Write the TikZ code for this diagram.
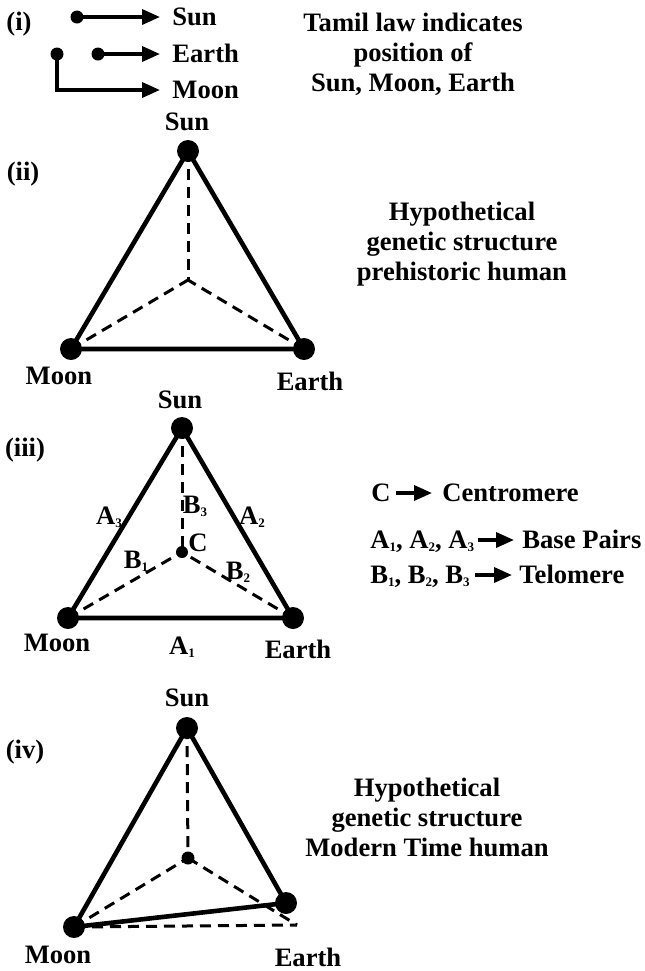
\documentclass[tikz,border=0pt]{standalone}
\usepackage{fontspec}
\setmainfont{Liberation Serif}
\usetikzlibrary{arrows.meta}
\newcommand{\sbs}[1]{\raisebox{-1.2pt}{\fontsize{6.5}{6.5}\selectfont #1}}
\begin{document}
\begin{tikzpicture}[x=0.5pt,y=-0.5pt,
  txt/.style={font=\fontsize{13.3}{15}\selectfont\bfseries, inner sep=0pt, text height=8.8pt, text depth=0pt},
  block/.style={font=\fontsize{13.3}{15}\selectfont\bfseries, inner sep=0pt, align=center},
  bigdot/.style={circle, fill=black, inner sep=0pt, minimum size=11pt},
  smalldot/.style={circle, fill=black, inner sep=0pt, minimum size=6.5pt},
  solidedge/.style={line width=2.3pt, line join=round},
  dashedge/.style={line width=1.5pt, dash pattern=on 5.5pt off 3.5pt},
  arr/.style={line width=1.8pt, -{Triangle[length=9pt,width=7.5pt]}},
]
\useasboundingbox (0,0) rectangle (644,971);

% ---------- (i)
\node[txt] (lab1) at (19,22) {(i)};
\node[smalldot] (d1) at (77,17) {};
\node[smalldot] (d2) at (57,54) {};
\node[smalldot] (d3) at (98,54) {};
\node[txt,anchor=west] (sun1) at (172,17) {Sun};
\node[txt,anchor=west] (earth1) at (172,54) {Earth};
\node[txt,anchor=west] (moon1) at (172,90) {Moon};
\draw[arr,shorten >=6pt] (d1.center) -- (sun1.west);
\draw[arr,shorten >=6pt] (d3.center) -- (earth1.west);
\draw[arr,shorten >=6pt] (d2.center) |- (moon1.west);
\node[block] (t1) at (413,54) {Tamil law indicates\\position of\\Sun, Moon, Earth};

% ---------- (ii)
\node[txt] (lab2) at (23,172) {(ii)};
\coordinate (c2) at (188,280);
\node[bigdot] (s2) at (188,151) {};
\node[bigdot] (m2) at (71,349) {};
\node[bigdot] (e2) at (304,349) {};
\draw[dashedge] (s2.center) -- (c2);
\draw[dashedge] (m2.center) -- (c2);
\draw[dashedge] (e2.center) -- (c2);
\draw[solidedge] (s2.center) -- (m2.center) -- (e2.center) -- cycle;
\node[txt] (sunl2) at (187,122) {Sun};
\node[txt] (moonl2) at (59,376) {Moon};
\node[txt] (earthl2) at (310,382) {Earth};
\node[block] (t2) at (462,244) {Hypothetical\\genetic structure\\prehistoric human};

% ---------- (iii)
\node[txt] (lab3) at (25,448) {(iii)};
\node[bigdot] (s3) at (182,428) {};
\node[bigdot] (m3) at (68,618) {};
\node[bigdot] (e3) at (293,618) {};
\node[smalldot,minimum size=6pt] (c3) at (182,552) {};
\draw[dashedge] (s3.center) -- (c3.center);
\draw[dashedge] (m3.center) -- (c3.center);
\draw[dashedge] (e3.center) -- (c3.center);
\draw[solidedge] (s3.center) -- (m3.center) -- (e3.center) -- cycle;
\node[txt] (sunl3) at (180,400) {Sun};
\node[txt] (moonl3) at (57,643) {Moon};
\node[txt] (earthl3) at (298,650) {Earth};
\node[txt] (a1) at (182,646) {A\sbs{1}};
\node[txt] (a2) at (252,516) {A\sbs{2}};
\node[txt] (a3) at (109,516) {A\sbs{3}};
\node[txt] (b1) at (136,560) {B\sbs{1}};
\node[txt] (b2) at (238,571) {B\sbs{2}};
\node[txt] (b3) at (195,505) {B\sbs{3}};
\node[txt] (cl) at (198,543) {C};

\node[txt,anchor=west] (kc) at (371,493) {C};
\node[txt,anchor=west] (kcv) at (442,493) {Centromere};
\draw[arr,shorten <=2.5pt,shorten >=5pt] (kc.east) -- (kcv.west);
\node[txt,anchor=west] (ka) at (370,540) {A\sbs{1}, A\sbs{2}, A\sbs{3}};
\node[txt,anchor=west] (kav) at (522,540) {Base Pairs};
\draw[arr,shorten <=1.5pt,shorten >=4pt] (ka.east) -- (kav.west);
\node[txt,anchor=west] (kb) at (370,575) {B\sbs{1}, B\sbs{2}, B\sbs{3}};
\node[txt,anchor=west] (kbv) at (519,575) {Telomere};
\draw[arr,shorten <=2.5pt,shorten >=3.5pt] (kb.east) -- (kbv.west);

% ---------- (iv)
\node[txt] (lab4) at (25,750) {(iv)};
\node[bigdot] (s4) at (187,728) {};
\node[bigdot] (m4) at (74,927) {};
\node[bigdot] (e4) at (286,903) {};
\node[smalldot] (c4) at (188,858) {};
\coordinate (k4) at (297,925);
\draw[dashedge] (s4.center) -- (c4.center);
\draw[dashedge] (m4.center) -- (c4.center);
\draw[dashedge] (c4.center) -- (k4);
\draw[dashedge] (m4.center) -- (k4);
\draw[solidedge] (s4.center) -- (m4.center) -- (e4.center) -- cycle;
\node[txt] (sunl4) at (187,698) {Sun};
\node[txt] (moonl4) at (58,955) {Moon};
\node[txt] (earthl4) at (308,958) {Earth};
\node[block] (t4) at (427,817) {Hypothetical\\genetic structure\\Modern Time human};
\end{tikzpicture}
\end{document}
